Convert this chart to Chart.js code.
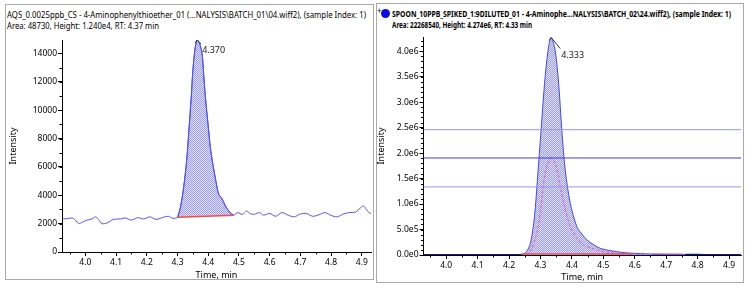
<!DOCTYPE html>
<html><head><meta charset="utf-8">
<script src="https://cdn.jsdelivr.net/npm/chart.js@4.4.0/dist/chart.umd.min.js"></script>
<style>
html,body{margin:0;padding:0;background:#fff;width:750px;height:288px;overflow:hidden;font-family:"Noto Sans",sans-serif;}
.panel{position:absolute;border:1px solid #a9a9a9;box-sizing:border-box;pointer-events:none;z-index:5;}
.t{position:absolute;white-space:nowrap;font-size:9px;line-height:11px;color:#000;transform-origin:0 50%;}
.b{font-weight:bold;}
.wrap{position:absolute;}
</style></head><body>
<div class="panel" style="left:5px;top:4px;width:369px;height:276px"></div>
<div class="panel" style="left:376px;top:3px;width:368px;height:280px"></div>
<div class="t" id="t1a" data-w="359" style="left:7px;top:8.5px"></div>
<div class="t" id="t1b" data-w="152" style="left:7px;top:19.5px"></div>
<div class="t" style="left:377px;top:6px;font-size:8px;line-height:9px">+</div>
<div style="position:absolute;left:381px;top:9px;width:9px;height:9px;border-radius:50%;background:#0a0ae6"></div>
<div class="t b" id="t2a" data-w="339" style="left:392px;top:8px"></div>
<div class="t b" id="t2b" data-w="140" style="left:392px;top:19px"></div>
<div class="wrap" style="left:6px;top:30px;width:368px;height:252px"><canvas id="c1" width="368" height="252"></canvas></div>
<div class="wrap" style="left:377px;top:28px;width:366px;height:256px"><canvas id="c2" width="366" height="256"></canvas></div>
<script>
// ---------- titles ----------
const leftTitle = "AQS_0.0025ppb_CS - 4-Aminophenylthioether_01 (...NALYSIS\\BATCH_01\\04.wiff2), (sample Index: 1)";
const leftSubtitle = "Area: 48730, Height: 1.240e4, RT: 4.37 min";
const rightTitle = "SPOON_10PPB_SPIKED_1:9DILUTED_01  -  4-Aminophe...NALYSIS\\BATCH_02\\24.wiff2), (sample Index: 1)";
const rightSubtitle = "Area: 22268540, Height: 4.274e6, RT: 4.33 min";
const xAxisTitle = "Time, min";
const yAxisTitle = "Intensity";

// ---------- tick labels ----------
const xTickValues = [4.0, 4.1, 4.2, 4.3, 4.4, 4.5, 4.6, 4.7, 4.8, 4.9];
const leftYTicks = [0, 2000, 4000, 6000, 8000, 10000, 12000, 14000];
const rightYTicks = [0, 500000, 1000000, 1500000, 2000000, 2500000, 3000000, 3500000, 4000000];

// ---------- left chromatogram ----------
const leftTime = [3.925,3.94,3.957,3.968,3.978,3.99,4.005,4.022,4.033,4.043,4.054,4.071,4.091,4.114,4.13,4.15,4.17,4.19,4.21,4.23,4.25,4.27,4.285,4.30,
 4.31,4.32,4.33,4.337,4.345,4.35,4.357,4.364,4.372,4.38,4.385,4.391,4.40,4.407,4.415,4.423,4.434,4.445,4.456,4.47,4.483,
 4.49,4.497,4.51,4.52,4.525,4.537,4.55,4.567,4.58,4.60,4.62,4.64,4.66,4.68,4.70,4.72,4.74,4.76,4.78,4.80,4.82,4.84,4.86,4.88,4.895,4.905,4.915,4.925,4.935];
const leftIntensity = [2330,2350,2400,2250,2000,2100,2250,2330,2480,2300,2000,2050,2300,2330,2400,2250,2420,2330,2480,2300,2420,2520,2380,2450,
 3200,4550,6500,8550,11000,12800,14300,14950,14700,14000,12600,10900,8900,7370,6200,5250,4080,3750,3250,2800,2600,
 2700,2780,2650,2800,2900,2700,2660,2780,2600,2720,2520,2780,2600,2480,2680,2720,2520,2620,2780,2580,2480,2680,2780,2820,3100,3250,3000,2750,2700];
const leftPeakStart = 4.30, leftPeakEnd = 4.483;
const leftBaselineTime = [4.30, 4.483];
const leftBaselineIntensity = [2450, 2600];
const leftApex = {x: 4.364, y: 14950, label: "4.370"};

// ---------- right chromatogram ----------
const rightTime = [3.928,4.00,4.10,4.20,4.235,4.241,4.255,4.268,4.281,4.291,4.302,4.313,4.324,4.334,4.347,4.358,4.368,4.379,4.395,4.416,4.432,4.448,4.47,4.49,4.515,4.544,4.57,4.597,4.65,4.70,4.75,4.76,4.80,4.85,4.938];
const rightIntensity = [0,0,0,0,0,5000,60000,229000,750000,1530000,2450000,3360000,4010000,4270000,4010000,3360000,2450000,1660000,1010000,554000,410000,294000,200000,131000,95000,65000,45000,33000,20000,15000,12000,5000,3000,2000,2000];
const rightInnerTime = [4.255,4.27,4.28,4.291,4.30,4.307,4.315,4.324,4.334,4.347,4.355,4.363,4.375,4.385,4.395,4.406,4.42,4.438,4.46,4.48,4.52,4.56,4.60,4.65];
const rightInnerIntensity = [0,100000,250000,490000,850000,1270000,1600000,1800000,1900000,1800000,1600000,1340000,1000000,750000,560000,425000,300000,196000,140000,98000,50000,25000,10000,0];
const rightBaselineTime = [4.24, 4.59];
const rightBaselineIntensity = [18000, 18000];
const rightTailTime = [4.655, 4.755];
const rightTailIntensity = [12000, 12000];
const rightLevels = [2460000, 1905000, 1337000];
const rightApex = {x: 4.334, y: 4270000, label: "4.333"};

// ---------- helpers ----------
function fitText(id, txt){ const el=document.getElementById(id); el.textContent=txt; const w=el.getBoundingClientRect().width; const tw=+el.dataset.w; el.style.transform='scaleX('+(tw/w)+')'; }
fitText('t1a', leftTitle); fitText('t1b', leftSubtitle); fitText('t2a', rightTitle); fitText('t2b', rightSubtitle);

const pts = (xs, ys) => xs.map((x,i)=>({x:x, y:ys[i]}));
const hatch = (() => { const c=document.createElement('canvas'); c.width=2; c.height=2; const g=c.getContext('2d');
  g.fillStyle='rgb(222,222,252)'; g.fillRect(0,0,2,2); g.fillStyle='rgb(160,160,242)'; g.fillRect(0,0,1,1); g.fillRect(1,1,1,1);
  return g.createPattern(c,'repeat'); })();

const FONT = {family:'"Noto Sans", sans-serif', size:8.5};
const TFONT = {family:'"Noto Sans", sans-serif', size:9, lineHeight:1};

const decor = {
  id:'decor',
  afterDraw(chart, args, o){
    const ctx=chart.ctx, xs=chart.scales.x, ys=chart.scales.y;
    ctx.save(); ctx.strokeStyle='#000'; ctx.lineWidth=1; ctx.beginPath();
    for(let i=0;i<xTickValues.length;i++){
      const v=xTickValues[i]+0.05; const p=Math.round(xs.getPixelForValue(v))+0.5;
      if(p<xs.right) { ctx.moveTo(p, xs.top); ctx.lineTo(p, xs.top+2.5); }
      const v2=xTickValues[i]-0.05; const p2=Math.round(xs.getPixelForValue(v2))+0.5;
      if(i===0 && p2>xs.left){ ctx.moveTo(p2, xs.top); ctx.lineTo(p2, xs.top+2.5); }
    }
    const t=o.yTicks, step=(t[1]-t[0])/o.yMinorDiv;
    for(let v=0; v<=ys.max; v+=step){
      const p=Math.round(ys.getPixelForValue(v))+0.5;
      ctx.moveTo(ys.right, p); ctx.lineTo(ys.right-2.5, p);
    }
    ctx.stroke();
    // apex label
    const a=o.apex; const ax=xs.getPixelForValue(a.x), ay=ys.getPixelForValue(a.y);
    ctx.strokeStyle='#333'; ctx.beginPath(); ctx.moveTo(ax-2, ay+3); ctx.lineTo(ax, ay); ctx.lineTo(ax+o.lead[0], ay+o.lead[1]); ctx.stroke();
    ctx.fillStyle='#222'; ctx.font='9px "Noto Sans", sans-serif'; ctx.textBaseline='middle'; ctx.textAlign='left';
    ctx.fillText(a.label, ax+o.text[0], ay+o.text[1]);
    ctx.restore();
  }
};

function makeScales(xmin, xmax, ymax, yTicks, fmt, yWidth, xHeight, yTitlePad, xTitlePad){
  return {
    x:{type:'linear', min:xmin, max:xmax,
      afterBuildTicks:s=>{ s.ticks = xTickValues.map(v=>({value:v})); },
      afterFit:s=>{ s.height = xHeight; },
      ticks:{autoSkip:false, maxRotation:0, padding:1, color:'#000', font:FONT, callback:v=>v.toFixed(1)},
      grid:{drawOnChartArea:false, drawTicks:true, tickLength:4, tickColor:'#000'},
      border:{display:true, color:'#000', width:1},
      title:{display:true, text:xAxisTitle, color:'#000', font:TFONT, padding:{top:0,bottom:xTitlePad}}
    },
    y:{type:'linear', min:0, max:ymax,
      afterBuildTicks:s=>{ s.ticks = yTicks.map(v=>({value:v})); },
      afterFit:s=>{ s.width = yWidth; },
      ticks:{autoSkip:false, padding:1, color:'#000', font:FONT, callback:fmt},
      grid:{drawOnChartArea:false, drawTicks:true, tickLength:4, tickColor:'#000'},
      border:{display:true, color:'#000', width:1},
      title:{display:true, text:yAxisTitle, color:'#000', font:TFONT, padding:{top:yTitlePad,bottom:0}}
    }
  };
}

const common = {responsive:false, animation:false, events:[],
  plugins:{legend:{display:false}, tooltip:{enabled:false}, title:{display:false}},
  elements:{point:{radius:0}, line:{borderWidth:1, tension:0.3}}};

// left chart
const peakIdx = leftTime.map((t,i)=>i).filter(i=>leftTime[i]>=leftPeakStart && leftTime[i]<=leftPeakEnd);
new Chart(document.getElementById('c1'), {
  type:'line',
  data:{datasets:[
    {data:pts(leftTime,leftIntensity), borderColor:'rgb(80,80,255)', fill:false, order:1},
    {data:peakIdx.map(i=>({x:leftTime[i], y:leftIntensity[i]})), borderColor:'rgb(70,70,240)', backgroundColor:hatch, fill:{target:2}, order:2},
    {data:pts(leftBaselineTime,leftBaselineIntensity), borderColor:'rgb(255,70,70)', borderWidth:1.5, fill:false, tension:0, order:0}
  ]},
  options:Object.assign({}, common, {
    layout:{padding:{top:10,right:3,left:0,bottom:0}},
    scales:makeScales(3.924, 4.93, 14950, leftYTicks, v=>String(v), 56, 30, 2.5, 2.5),
    plugins:Object.assign({}, common.plugins, {decor:{yTicks:leftYTicks, yMinorDiv:2, apex:leftApex, lead:[4,4], text:[5,10]}})
  }),
  plugins:[decor]
});

// right chart
const expFmt = v => v===0 ? '0.0e0' : v.toExponential(1).replace('e+','e');
const levelSets = rightLevels.map((v,i)=>({data:[{x:3.928,y:v},{x:4.938,y:v}], borderColor: i===1?'rgb(60,60,225)':'rgb(150,150,240)', borderWidth:1, tension:0, fill:false, order:0}));
new Chart(document.getElementById('c2'), {
  type:'line',
  data:{datasets:[
    {data:pts(rightTime,rightIntensity), borderColor:'rgb(70,70,240)', backgroundColor:hatch, fill:'origin', order:3,
      segment:{borderColor:c=> (c.p0.parsed.y<6000 && c.p1.parsed.y<6000) ? 'rgb(20,20,150)' : undefined,
               borderWidth:c=> (c.p0.parsed.y<6000 && c.p1.parsed.y<6000) ? 2 : undefined}},
    {data:pts(rightInnerTime,rightInnerIntensity), borderColor:'rgb(225,80,225)', borderDash:[3,2], fill:false, order:2},
    {data:pts(rightBaselineTime,rightBaselineIntensity), borderColor:'rgb(255,70,70)', borderWidth:1.5, tension:0, fill:false, order:1},
    {data:pts(rightTailTime,rightTailIntensity), borderColor:'rgb(170,60,220)', borderWidth:1.5, tension:0, fill:false, order:1}
  ].concat(levelSets)},
  options:Object.assign({}, common, {
    layout:{padding:{top:9,right:2,left:0,bottom:0}},
    scales:makeScales(3.928, 4.938, 4280000, rightYTicks, expFmt, 46.5, 29, 0, 2.2),
    plugins:Object.assign({}, common.plugins, {decor:{yTicks:rightYTicks, yMinorDiv:5, apex:rightApex, lead:[9,11], text:[10,18]}})
  }),
  plugins:[decor]
});
</script>
</body></html>
